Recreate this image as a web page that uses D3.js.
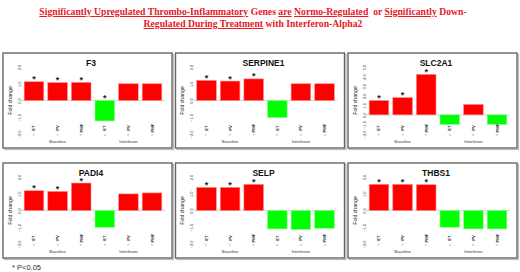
<!DOCTYPE html>
<html lang="en">
<head>
<meta charset="UTF-8">
<script src="https://d3js.org/d3.v7.min.js"></script>
<title>Thrombo-inflammatory genes</title>
<style>
  body { margin: 0; background: #fff; }
</style>
</head>
<body>
<svg id="mainsvg" width="520" height="272"></svg>
<script>
  // data
  const genes = ['F3', 'SERPINE1', 'SLC2A1', 'PADI4', 'SELP', 'THBS1']
  const categories = ['ET', 'PV', 'PMF', 'ET', 'PV', 'PMF']
  const groups = ['Baseline', 'Interferon']
  const f3 = [1.12, 1.07, 1.08, -1.22, 1.0, 1.0]
  const serpine1 = [1.2, 1.16, 1.29, -1.02, 1.0, 1.0]
  const slc2a1 = [1.5, 1.8, 4.23, -1.0, 1.09, -1.0]
  const padi4 = [1.18, 1.14, 1.64, -1.0, 0.99, 1.05]
  const selp = [1.38, 1.38, 1.56, -1.1, -1.13, -1.06]
  const thbs1 = [1.56, 1.56, 1.54, -1.0, -1.1, -1.1]
  const significant = [
    [1, 1, 1, 1, 0, 0],
    [1, 1, 1, 0, 0, 0],
    [1, 1, 1, 0, 0, 0],
    [1, 1, 1, 0, 0, 0],
    [1, 1, 1, 0, 0, 0],
    [1, 1, 1, 0, 0, 0]
  ]
  const ticksSmall = [-2, -1, 0, 1, 2]
  const ticksLarge = [-2, -1, 0, 1, 2, 3, 4, 5]
  const series = [f3, serpine1, slc2a1, padi4, selp, thbs1]
  const tickSets = [ticksSmall, ticksSmall, ticksLarge, ticksSmall, ticksSmall, ticksSmall]

  const svg = d3.select('#mainsvg')
  const panelW = 169, panelH = 95

  // title with underlined pieces
  const titleLines = [
    [['Significantly Upregulated Thrombo-Inflammatory', true], [' Genes ', false], ['are', true], [' ', false],
     ['Normo-Regulated', true], ['  or ', false], ['Significantly', true], [' Down-', false]],
    [['Regulated During Treatment', true], [' with Interferon-Alpha2', false]]
  ]
  titleLines.forEach((line, i) => {
    const t = svg.append('text')
      .attr('x', 253).attr('y', 15 + i * 12)
      .attr('text-anchor', 'middle')
      .attr('font-family', 'Liberation Serif, serif')
      .attr('font-weight', 'bold')
      .attr('font-size', 9.7)
      .attr('fill', '#e8161d')
      .attr('xml:space', 'preserve')
    line.forEach(([s, u]) => {
      t.append('tspan').text(s)
        .style('text-decoration', u ? 'underline' : 'none')
    })
  })

  const x = d3.scaleBand()
    .domain(d3.range(6))
    .range([20, 160])
    .paddingInner(0.17)
    .paddingOuter(0.05)

  genes.forEach((gene, gi) => {
    const col = gi % 3, row = Math.floor(gi / 3)
    const px = 3 + col * 172.5, py = 53 + row * 110
    const g = svg.append('g').attr('transform', `translate(${px}, ${py})`)
    const ticks = tickSets[gi]
    const y = d3.scaleLinear()
      .domain(d3.extent(ticks))
      .range([81, 14])

    // frame with a little shadow
    g.append('rect').attr('x', 1.5).attr('y', 1.5).attr('width', panelW).attr('height', panelH)
      .attr('fill', 'none').attr('stroke', '#bbb').attr('stroke-width', 1.2)
    g.append('rect').attr('width', panelW).attr('height', panelH)
      .attr('fill', '#fff').attr('stroke', '#666').attr('stroke-width', 1.4)

    g.append('text').text(gene)
      .attr('x', 88).attr('y', 13)
      .attr('text-anchor', 'middle')
      .attr('font-family', 'Liberation Sans, Arial, sans-serif')
      .attr('font-weight', 'bold').attr('font-size', 8.5)
      .attr('fill', '#111')

    // y axis without line, labels turned on their side
    const yAxis = d3.axisLeft(y).tickValues(ticks).tickSize(0).tickPadding(0)
    const ag = g.append('g').attr('transform', 'translate(16, 0)').call(yAxis)
    ag.select('.domain').remove()
    ag.selectAll('.tick text')
      .attr('x', 0).attr('y', 0).attr('dy', null)
      .attr('transform', 'translate(1.5, 0) rotate(-90)')
      .attr('text-anchor', 'middle')
      .attr('font-size', 4).attr('fill', '#333')
      .attr('font-family', 'Liberation Sans, sans-serif')

    g.append('text').text('Fold change')
      .attr('transform', `translate(8.5, ${(y.range()[0] + y.range()[1]) / 2}) rotate(-90)`)
      .attr('text-anchor', 'middle')
      .attr('font-family', 'Liberation Sans, sans-serif')
      .attr('font-size', 5.2).attr('fill', '#222')

    // zero line
    g.append('line')
      .attr('x1', 18).attr('x2', 162)
      .attr('y1', y(0)).attr('y2', y(0))
      .attr('stroke', '#ccc').attr('stroke-width', 0.8)

    const vals = series[gi]
    g.selectAll('rect.bar')
      .data(vals)
      .join('rect')
      .attr('class', 'bar')
      .attr('x', (d, i) => x(i))
      .attr('width', x.bandwidth())
      .attr('y', d => y(Math.max(0, d)))
      .attr('height', d => Math.abs(y(d) - y(0)))
      .attr('fill', d => d >= 0 ? '#ff0000' : '#00ff00')
      .attr('stroke', d => d >= 0 ? '#ff8a8a' : '#8aff8a')
      .attr('stroke-width', 0.6)

    g.selectAll('text.star')
      .data(vals.map((v, i) => ({ v, i, s: significant[gi][i] })).filter(d => d.s))
      .join('text')
      .attr('class', 'star')
      .text('*')
      .attr('x', d => x(d.i) + x.bandwidth() / 2)
      .attr('y', d => y(Math.max(0, d.v)) + 0.5)
      .attr('text-anchor', 'middle')
      .attr('font-family', 'Liberation Sans, sans-serif')
      .attr('font-weight', 'bold')
      .attr('font-size', 9).attr('fill', '#222')

    // rotated category labels
    categories.forEach((c, i) => {
      const cx = x(i) + x.bandwidth() / 2
      g.append('text').text(c)
        .attr('transform', `translate(${cx + 1.5}, 75) rotate(-90)`)
        .attr('text-anchor', 'middle')
        .attr('font-family', 'Liberation Sans, sans-serif')
        .attr('font-weight', 'bold')
        .attr('font-size', 4.2).attr('fill', '#333')
      g.append('text').text(i < 3 ? '•' : '=')
        .attr('transform', `translate(${cx + 1}, 82) rotate(-90)`)
        .attr('text-anchor', 'middle')
        .attr('font-family', 'Liberation Sans, sans-serif')
        .attr('font-size', 3.5).attr('fill', '#333')
    })
    groups.forEach((grp, k) => {
      g.append('text').text(grp)
        .attr('x', x(1 + k * 3) + x.bandwidth() / 2)
        .attr('y', 90)
        .attr('text-anchor', 'middle')
        .attr('font-family', 'Liberation Sans, sans-serif')
        .attr('font-size', 4.3).attr('fill', '#333')
    })
  })

  svg.append('text').text('* P<0.05')
    .attr('x', 12).attr('y', 269.5)
    .attr('font-family', 'Liberation Sans, Arial, sans-serif')
    .attr('font-size', 7.5).attr('fill', '#333')
</script>
</body>
</html>
